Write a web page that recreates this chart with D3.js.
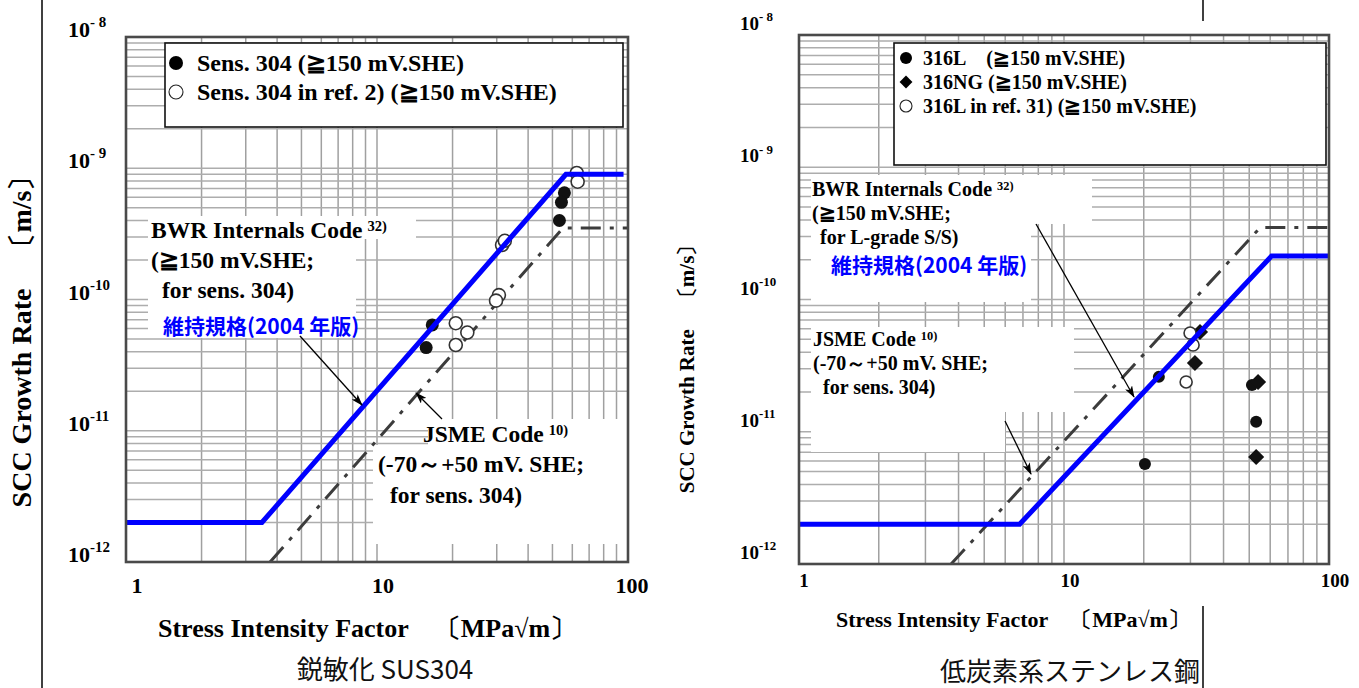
<!DOCTYPE html>
<html><head><meta charset="utf-8">
<script src="https://cdn.jsdelivr.net/npm/d3@7"></script>
<style>body{margin:0;background:#fff}svg{display:block}</style>
</head><body>
<svg id="c" width="1359" height="688"></svg>
<script>
// ---------- data ----------
const xTickValues = [1, 10, 100];
const xTickLabels = ["1", "10", "100"];
const yTickValues = [1e-8, 1e-9, 1e-10, 1e-11, 1e-12];
const yTickExponents = ["- 8", "- 9", "-10", "-11", "-12"];

// Left panel: sensitized SUS304
const leftBwrK    = [1, 3.48, 56.6, 96];
const leftBwrRate = [2e-12, 2e-12, 9.0e-10, 9.0e-10];
const leftJsmeK    = [3.75, 55, 100];
const leftJsmeRate = [1e-12, 3.5e-10, 3.5e-10];
const leftFilledK    = [16.6, 15.7, 55.8, 54.3, 53.3];
const leftFilledRate = [6.4e-11, 4.3e-11, 6.5e-10, 5.5e-10, 4.0e-10];
const leftOpenK    = [62.5, 63.0, 31.5, 32.3, 30.6, 29.8, 20.6, 22.9, 20.6];
const leftOpenRate = [9.2e-10, 7.9e-10, 2.6e-10, 2.8e-10, 1.08e-10, 0.98e-10, 6.6e-11, 5.6e-11, 4.5e-11];
const leftLegend = ["Sens. 304 (≧150 mV.SHE)", "Sens. 304 in ref. 2) (≧150 mV.SHE)"];

// Right panel: low-carbon stainless steel
const rightBwrK    = [1, 6.8, 60.7, 100];
const rightBwrRate = [2e-12, 2e-12, 2.13e-10, 2.13e-10];
const rightJsmeK    = [3.75, 55, 100];
const rightJsmeRate = [1e-12, 3.5e-10, 3.5e-10];
const rightFilledK    = [22.8, 51.2, 53.1, 20.2];
const rightFilledRate = [2.6e-11, 2.26e-11, 1.19e-11, 5.7e-12];
const rightDiamondK    = [31.2, 32.6, 54.0, 53.1];
const rightDiamondRate = [3.31e-11, 5.68e-11, 2.38e-11, 6.44e-12];
const rightOpenK    = [28.9, 30.7, 29.9];
const rightOpenRate = [2.38e-11, 4.53e-11, 5.58e-11];
const rightLegend = ["316L\u2002\u2002(≧150 mV.SHE)", "316NG (≧150 mV.SHE)", "316L in ref. 31) (≧150 mV.SHE)"];

const serif = "'Liberation Serif','Times New Roman',serif";
const cjk = "'Noto Sans CJK JP','Noto Sans',sans-serif";

const svg = d3.select("#c");
const defs = svg.append("defs");
defs.append("marker").attr("id","arr").attr("viewBox","0 0 12 8")
  .attr("refX",11).attr("refY",4).attr("markerWidth",12).attr("markerHeight",8)
  .attr("markerUnits","userSpaceOnUse").attr("orient","auto")
  .append("path").attr("d","M0,0 L12,4 L0,8 L3,4 Z").attr("fill","#000");

// page dividers
svg.append("line").attr("x1",42).attr("x2",42).attr("y1",0).attr("y2",688).attr("stroke","#000").attr("stroke-width",1.5);
svg.append("line").attr("x1",1203).attr("x2",1203).attr("y1",0).attr("y2",21).attr("stroke","#000").attr("stroke-width",1.5);
svg.append("line").attr("x1",1203).attr("x2",1203).attr("y1",606).attr("y2",688).attr("stroke","#000").attr("stroke-width",1.5);

function zip(a,b){return a.map((v,i)=>[v,b[i]]);}

function drawPanel(c){
  const x = d3.scaleLog().domain([1,100]).range(c.xr);
  const y = d3.scaleLog().domain([1e-12,1e-8]).range(c.yr);
  const g = svg.append("g");
  // grid
  const gx = [], gy = [];
  [1,10].forEach(d=>{for(let k=1;k<10;k++) gx.push(k*d);}); gx.push(100);
  [1e-12,1e-11,1e-10,1e-9].forEach(d=>{for(let k=1;k<10;k++) gy.push(k*d);}); gy.push(1e-8);
  g.selectAll(".gx").data(gx).join("line").attr("x1",d=>x(d)).attr("x2",d=>x(d))
    .attr("y1",c.yr[1]).attr("y2",c.yr[0]).attr("stroke","#a0a0a0").attr("stroke-width",1.5);
  g.selectAll(".gy").data(gy).join("line").attr("y1",d=>y(d)).attr("y2",d=>y(d))
    .attr("x1",c.xr[0]).attr("x2",c.xr[1]).attr("stroke","#adadad").attr("stroke-width",1.5);
  // legend box
  g.append("rect").attr("x",c.legBox[0]).attr("y",c.legBox[1]).attr("width",c.legBox[2]).attr("height",c.legBox[3])
    .attr("fill","#fff").attr("stroke","#111").attr("stroke-width",1.6);
  // white annotation boxes
  c.whites.forEach(r=>g.append("rect").attr("x",r[0]).attr("y",r[1]).attr("width",r[2]).attr("height",r[3]).attr("fill","#fff"));
  // JSME dash-dot line
  const line = d3.line().x(d=>x(d[0])).y(d=>y(d[1]));
  g.append("path").attr("d",line(zip(c.jsmeK,c.jsmeRate))).attr("fill","none")
    .attr("stroke","#3c3c3c").attr("stroke-width",3).attr("stroke-dasharray","20,9,4,9");
  // points
  g.selectAll(".fp").data(zip(c.filledK,c.filledRate)).join("circle")
    .attr("cx",d=>x(d[0])).attr("cy",d=>y(d[1])).attr("r",c.r).attr("fill","#111");
  if(c.diamondK){
    const sym = d3.symbol().type(d3.symbolSquare).size(c.dsize);
    g.selectAll(".dp").data(zip(c.diamondK,c.diamondRate)).join("path").attr("d",sym)
      .attr("transform",d=>`translate(${x(d[0])},${y(d[1])}) rotate(45)`).attr("fill","#111");
  }
  g.selectAll(".op").data(zip(c.openK,c.openRate)).join("circle")
    .attr("cx",d=>x(d[0])).attr("cy",d=>y(d[1])).attr("r",c.r).attr("fill","#fff").attr("stroke","#333").attr("stroke-width",1.6);
  // BWR blue line
  g.append("path").attr("d",line(zip(c.bwrK,c.bwrRate))).attr("fill","none")
    .attr("stroke","#0000ff").attr("stroke-width",5).attr("stroke-linejoin","miter");
  // frame
  g.append("rect").attr("x",c.xr[0]).attr("y",c.yr[1]).attr("width",c.xr[1]-c.xr[0]).attr("height",c.yr[0]-c.yr[1])
    .attr("fill","none").attr("stroke","#4a4a4a").attr("stroke-width",2.6);
  // legend entries
  c.legend.forEach((t,i)=>{
    const cy = c.legRow0 + i*c.legStep, mx = c.legMarkX;
    if(c.legSym[i]==="filled") g.append("circle").attr("cx",mx).attr("cy",cy).attr("r",c.legR).attr("fill","#000");
    else if(c.legSym[i]==="open") g.append("circle").attr("cx",mx).attr("cy",cy).attr("r",c.legR).attr("fill","#fff").attr("stroke","#222").attr("stroke-width",1.1);
    else g.append("path").attr("d",d3.symbol().type(d3.symbolSquare).size(c.legR*c.legR*2.3)).attr("transform",`translate(${mx},${cy}) rotate(45)`).attr("fill","#000");
    g.append("text").attr("x",c.legTextX).attr("y",cy+c.legFs*0.33).attr("font-family",serif).attr("font-weight","bold")
      .attr("font-size",c.legFs).attr("fill","#000").attr("xml:space","preserve").text(t);
  });
  // tick labels
  g.selectAll(".xt").data(xTickValues).join("text").attr("x",(d,i)=>x(d)+c.xtOff[i]).attr("y",c.xtY)
    .attr("text-anchor","middle").attr("font-family",serif).attr("font-weight","bold").attr("font-size",c.tickFs).text((d,i)=>xTickLabels[i]);
  yTickValues.forEach((v,i)=>{
    const t = g.append("text").attr("x",c.ytX).attr("y",y(v)+c.ytOff).attr("font-family",serif).attr("font-weight","bold").attr("font-size",c.tickFs);
    t.append("tspan").text("10");
    t.append("tspan").attr("dy",-c.tickFs*0.45).attr("font-size",c.tickFs*0.68).attr("xml:space","preserve").text(yTickExponents[i]);
  });
  // axis titles
  g.append("text").attr("transform",`translate(${c.ylab[0]},${c.ylab[1]}) rotate(-90)`).attr("text-anchor","middle")
    .attr("font-family",serif).attr("font-weight","bold").attr("font-size",c.ylabFs).attr("xml:space","preserve")
    .text("SCC Growth Rate\u2003〔m/s〕");
  g.append("text").attr("x",c.xlab[0]).attr("y",c.xlab[1]).attr("font-family",serif).attr("font-weight","bold")
    .attr("font-size",c.xlabFs).attr("xml:space","preserve").text("Stress Intensity Factor\u2003〔MPa√m〕");
  g.append("text").attr("x",c.sub[0]).attr("y",c.sub[1]).attr("text-anchor","middle").attr("font-family",cjk)
    .attr("font-size",c.subFs).attr("fill","#111").text(c.subtitle);
  // annotations
  c.notes.forEach(n=>{
    const t = g.append("text").attr("x",n[0]).attr("y",n[1]).attr("font-family",n[4]?cjk:serif).attr("font-weight","bold")
      .attr("font-size",n[3]).attr("fill",n[4]?"#0000ff":"#000").attr("xml:space","preserve");
    t.append("tspan").text(n[2]);
    if(n[5]) t.append("tspan").attr("dx",5).attr("dy",-n[3]*0.3).attr("font-size",n[3]*0.62).text(n[5]);
  });
  c.arrows.forEach(a=>g.append("line").attr("x1",a[0]).attr("y1",a[1]).attr("x2",a[2]).attr("y2",a[3])
    .attr("stroke","#000").attr("stroke-width",1.3).attr("marker-end","url(#arr)"));
}

drawPanel({
  xr:[126,628], yr:[562,37], r:6.5,
  bwrK:leftBwrK, bwrRate:leftBwrRate, jsmeK:leftJsmeK, jsmeRate:leftJsmeRate,
  filledK:leftFilledK, filledRate:leftFilledRate, openK:leftOpenK, openRate:leftOpenRate,
  legBox:[165,43,458,84], legend:leftLegend, legSym:["filled","open"], legRow0:63, legStep:29, legMarkX:176, legR:7, legTextX:197, legFs:24,
  xtOff:[11,6,4], xtY:593, tickFs:22, ytX:68, ytOff:0,
  ylab:[31,335], ylabFs:28, xlab:[158,637], xlabFs:26, sub:[385,679], subFs:26, subtitle:"鋭敏化 SUS304",
  whites:[[148,216,268,23],[148,239,208,99],[428,419,199,26],[373,445,254,99]],
  notes:[[151,238,"BWR Internals Code",23.5,false,"32)"],[151,268,"(≧150 mV.SHE;",23.5],[162,298,"for sens. 304)",23.5],
         [163,334,"維持規格(2004 年版)",21,true],
         [423,442,"JSME Code",23.5,false,"10)"],[378,472,"(-70～+50 mV. SHE;",23.5],[390,503,"for sens. 304)",23.5]],
  arrows:[[300,336,362,405],[442,419,416,393]]
});

drawPanel({
  xr:[799,1329], yr:[564,35], r:6,
  bwrK:rightBwrK, bwrRate:rightBwrRate, jsmeK:rightJsmeK, jsmeRate:rightJsmeRate,
  filledK:rightFilledK, filledRate:rightFilledRate, diamondK:rightDiamondK, diamondRate:rightDiamondRate, dsize:130,
  openK:rightOpenK, openRate:rightOpenRate,
  legBox:[894,43,432,122], legend:rightLegend, legSym:["filled","diamond","open"], legRow0:58, legStep:24, legMarkX:906, legR:6, legTextX:923, legFs:20,
  xtOff:[5,6,6], xtY:587, tickFs:19, ytX:740, ytOff:-5,
  ylab:[694,364], ylabFs:21, xlab:[836,627], xlabFs:22, sub:[1070,681], subFs:26, subtitle:"低炭素系ステンレス鋼",
  whites:[[811,175,281,49],[811,224,220,78],[811,327,263,85],[811,412,194,40]],
  notes:[[812,196,"BWR Internals Code",20,false,"32)"],[812,220,"(≧150 mV.SHE;",20],[820,244,"for L-grade S/S)",20],
         [831,273,"維持規格(2004 年版)",21,true],
         [813,346,"JSME Code",20,false,"10)"],[813,370,"(-70～+50 mV. SHE;",20],[823,394,"for sens. 304)",20]],
  arrows:[[1036,224,1134,397],[1005,421,1031,474]]
});
</script>
</body></html>
